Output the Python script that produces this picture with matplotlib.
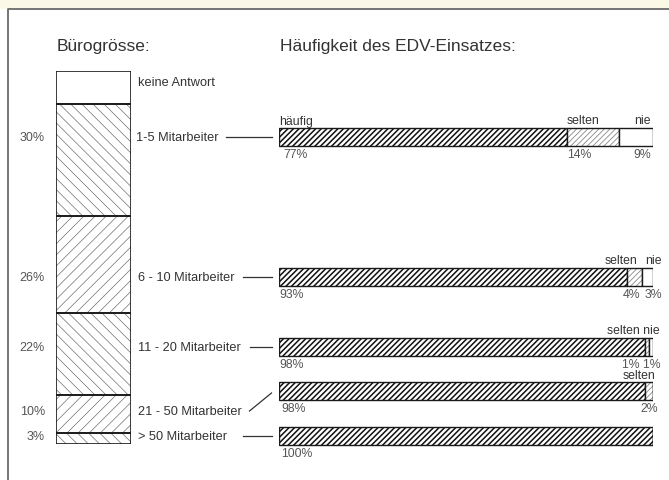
import matplotlib
matplotlib.use("Agg")
import matplotlib.pyplot as plt
import numpy as np

plt.rcParams['font.family'] = ['Liberation Sans', 'DejaVu Sans']

# Bürogrösse (share of offices, top to bottom)
size_labels = ['keine Antwort', '1-5 Mitarbeiter', '6 - 10 Mitarbeiter', '11 - 20 Mitarbeiter',
               '21 - 50 Mitarbeiter', '> 50 Mitarbeiter']
size_share = [9, 30, 26, 22, 10, 3]

# Häufigkeit des EDV-Einsatzes per size class: häufig, selten, nie
haeufig = [77, 93, 98, 98, 100]
selten = [14, 4, 1, 2, 0]
nie = [9, 3, 1, 0, 0]

W, H = 669, 481
fig = plt.figure(figsize=(W / 100, H / 100), dpi=100)
fig.patch.set_facecolor('white')

TXT = '#333333'
PCT = '#555555'


def box(x0, y0, x1, y1):
    # pixel box (from top-left) -> figure fraction rect
    return [x0 / W, 1 - y1 / H, (x1 - x0) / W, (y1 - y0) / H]


def hatched(bars, lw):
    for p in bars:
        if hasattr(p, 'set_hatch_linewidth'):
            p.set_hatch_linewidth(lw)


# background axes in pixel units for frame, titles and connectors
bg = fig.add_axes([0, 0, 1, 1])
bg.set_xlim(0, W)
bg.set_ylim(H, 0)
bg.axis('off')
bg.add_patch(plt.Rectangle((0, 0), W, 9.5, color='#fbf8e8', lw=0))
bg.plot([8, 8, W], [H, 10, 10], color='#6a6a6a', lw=1.3, solid_capstyle='butt')

bg.text(57, 46, 'Bürogrösse:', fontsize=12.5, color=TXT, va='center', ha='left')
bg.text(280, 46, 'Häufigkeit des EDV-Einsatzes:', fontsize=12.5, color=TXT, va='center', ha='left')

# ---- left stacked column ----
axl = fig.add_axes(box(56, 71.7, 130.7, 445))
axl.set_xlim(0, 1)
axl.set_ylim(100, 0)
axl.axis('off')
left_hatch = [None, '\\\\\\', '///', '\\\\\\', '///', '\\\\\\']
bottoms = np.concatenate([[0], np.cumsum(size_share)[:-1]])
with plt.rc_context({'hatch.linewidth': 0.5}):
    for share, b, h in zip(size_share, bottoms, left_hatch):
        hb = axl.bar(0.5, share, bottom=b, width=1, color='white', edgecolor='#707070',
                     lw=0, hatch=h)
        hatched(hb, 0.5)
for share, b in zip(size_share, bottoms):
    axl.bar(0.5, share, bottom=b, width=1, fill=False, edgecolor='#1a1a1a', lw=1.2)

# labels of the size classes (y positions aligned to the right bars)
label_y = [83, 138, 278, 348.5, 412, 437]
label_x = [138, 136.5, 138, 138, 138, 138]
for lab, x, y in zip(size_labels, label_x, label_y):
    bg.text(x, y, lab, fontsize=9.2, color=TXT, va='center', ha='left')
for share, y in zip(size_share[1:], label_y[1:]):
    bg.text(45, y, f'{share}%', fontsize=9, color=PCT, va='center', ha='right')

# connectors from labels to bars
bg.plot([226, 272], [138, 138], color=TXT, lw=0.9)
bg.plot([243, 272], [278, 278], color=TXT, lw=0.9)
bg.plot([250, 272], [348, 348], color=TXT, lw=0.9)
bg.plot([249.5, 271.5], [412, 394], color=TXT, lw=0.9)
bg.plot([243, 272], [437, 437], color=TXT, lw=0.9)

# ---- right stacked bars ----
axr = fig.add_axes(box(279.4, 0, 652.7, H))
axr.set_xlim(0, 100)
axr.set_ylim(H, 0)
axr.axis('off')
axr.patch.set_alpha(0)

row_y = [138, 277.7, 347.7, 392.3, 436.7]
bh = 18
segs = [(haeufig, '//////', '#111111', 1.1), (selten, '//////', '#888888', 0.6),
        (nie, None, 'white', 0.5)]
left = np.zeros(len(row_y))
for vals, hatch, hc, hlw in segs:
    vals = np.array(vals, dtype=float)
    with plt.rc_context({'hatch.linewidth': hlw}):
        hb = axr.barh(row_y, vals, left=left, height=bh, color='white', edgecolor=hc,
                      lw=0, hatch=hatch)
        hatched(hb, hlw)
    axr.barh(row_y, vals, left=left, height=bh, fill=False, edgecolor='#1a1a1a', lw=1.0)
    left += vals

fs = 8.8
up = -bh / 2 - 1.5
dn = bh / 2 + 2
# row 1
y = row_y[0]
axr.text(0, y + up, 'häufig', fontsize=fs, color=TXT, ha='left', va='bottom')
axr.text(haeufig[0], y + up, 'selten', fontsize=fs, color=TXT, ha='left', va='bottom')
axr.text(99.5, y + up, 'nie', fontsize=fs, color=TXT, ha='right', va='bottom')
axr.text(1, y + dn, f'{haeufig[0]}%', fontsize=fs, color=PCT, ha='left', va='top')
axr.text(haeufig[0], y + dn, f'{selten[0]}%', fontsize=fs, color=PCT, ha='left', va='top')
axr.text(99.5, y + dn, f'{nie[0]}%', fontsize=fs, color=PCT, ha='right', va='top')
# row 2
y = row_y[1]
axr.text(95.8, y + up, 'selten', fontsize=fs, color=TXT, ha='right', va='bottom')
axr.text(100.2, y + up, 'nie', fontsize=fs, color=TXT, ha='center', va='bottom')
axr.text(0, y + dn, f'{haeufig[1]}%', fontsize=fs, color=PCT, ha='left', va='top')
axr.text(96.6, y + dn, f'{selten[1]}%', fontsize=fs, color=PCT, ha='right', va='top')
axr.text(97.8, y + dn, f'{nie[1]}%', fontsize=fs, color=PCT, ha='left', va='top')
# row 3
y = row_y[2]
axr.text(101.8, y + up, 'selten nie', fontsize=fs, color=TXT, ha='right', va='bottom')
axr.text(0, y + dn, f'{haeufig[2]}%', fontsize=fs, color=PCT, ha='left', va='top')
axr.text(102.2, y + dn, f'{selten[2]}% {nie[2]}%', fontsize=fs, color=PCT, ha='right', va='top')
# row 4
y = row_y[3]
axr.text(100.6, y + up, 'selten', fontsize=fs, color=TXT, ha='right', va='bottom')
axr.text(0.5, y + dn, f'{haeufig[3]}%', fontsize=fs, color=PCT, ha='left', va='top')
axr.text(101.4, y + dn, f'{selten[3]}%', fontsize=fs, color=PCT, ha='right', va='top')
# row 5
y = row_y[4]
axr.text(0.5, y + dn, f'{haeufig[4]}%', fontsize=fs, color=PCT, ha='left', va='top')

fig.savefig('out.png', dpi=100)
